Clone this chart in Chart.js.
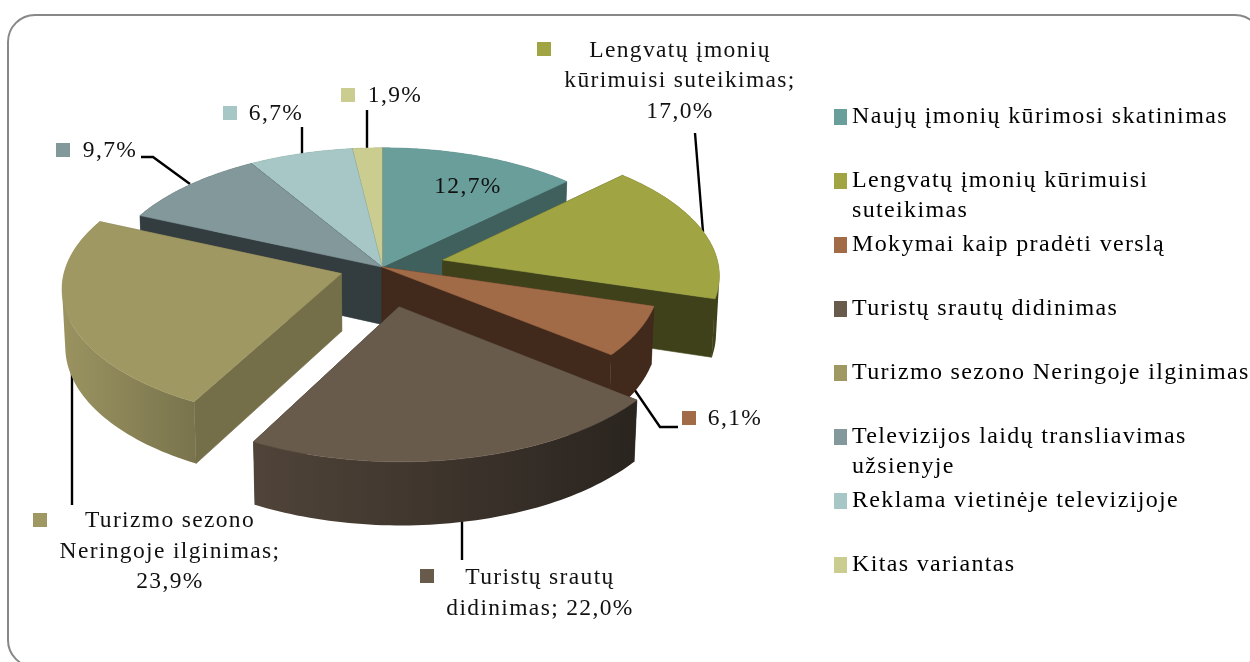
<!DOCTYPE html>
<html><head><meta charset="utf-8">
<style>
html,body{margin:0;padding:0;background:#fff;overflow:hidden;width:1250px;height:662px}
#frame{position:absolute;left:7px;top:14px;width:1256px;height:654px;border:2px solid #888;border-radius:28px;box-sizing:border-box}
#wrap{position:absolute;left:0;top:0;width:1250px;height:662px}
</style>
<script src="https://cdn.jsdelivr.net/npm/chart.js@4"></script>
</head><body>
<div id="frame"></div>
<div id="wrap"><canvas id="c" width="1250" height="662"></canvas></div>
<script>
const categories=["Naujų įmonių kūrimosi skatinimas","Lengvatų įmonių kūrimuisi suteikimas","Mokymai kaip pradėti verslą","Turistų srautų didinimas","Turizmo sezono Neringoje ilginimas","Televizijos laidų transliavimas užsienyje","Reklama vietinėje televizijoje","Kitas variantas"];
const legendLines=[["Naujų įmonių kūrimosi skatinimas",""],["Lengvatų įmonių kūrimuisi","suteikimas"],["Mokymai kaip pradėti verslą",""],["Turistų srautų didinimas",""],["Turizmo sezono Neringoje ilginimas",""],["Televizijos laidų transliavimas","užsienyje"],["Reklama vietinėje televizijoje",""],["Kitas variantas",""]];
const values=[12.7,17.0,6.1,22.0,23.9,9.7,6.7,1.9];
const topColors=["#699E9A","#A0A443","#A26B48","#695B4C","#A09863","#83989B","#A6C7C5","#CACC90"];
const cutColors=["#3F605D","#3F411A","#41291B","#2A241F","#746E49","#333D40","#5C7370","#7A7B50"];
const wallLeft=["#3F605D","#3F411A","#41291B","#504439","#9A9360","#333D40","#5C7370","#7A7B50"];
const wallRight=["#3F605D","#3F411A","#41291B","#2A241F","#7A744E","#333D40","#5C7370","#7A7B50"];
const explode=[0,0.228,0,0.3,0.155,0,0,0];
const drawOrder=[0,7,6,5,1,4,2,3];
const view={cx:382,cy:267,tilt:0.475,depth:0.21,persp:0.1,depthPersp:0.01};
const labelFont='23.5px "Liberation Serif"';
const spacing='1.35px';
const labelLayout=[
 {text:[""],tx:468,ty:187,leader:null},
 {text:["Lengvatų įmonių","kūrimuisi suteikimas;",""],tx:680,ty:50.5,mx:544,my:49,leader:[[695,133],[703,232]]},
 {text:[""],tx:735,ty:419,mx:689,my:418,leader:[[632,386],[660,427],[678,427]]},
 {text:["Turistų srautų","didinimas; 22,0%"],tx:540,ty:578,mx:427,my:576,fixed:true,leader:[[462,520],[462,560]]},
 {text:["Turizmo sezono","Neringoje ilginimas;",""],tx:170,ty:521,mx:40,my:520,leader:[[72,365],[72,505]]},
 {text:[""],tx:110,ty:151,mx:63,my:150,leader:[[141,157],[153,157],[190,184]]},
 {text:[""],tx:276,ty:114,mx:230,my:113,leader:[[302,127],[302,156]]},
 {text:[""],tx:395,ty:96,mx:348,my:95,leader:[[367,110],[367,150]]}
];
function pct(v){return v.toFixed(1).replace('.',',')+'%';}
function swatch(c){const s=document.createElement('canvas');s.width=16;s.height=16;const x=s.getContext('2d');x.fillStyle=c;x.fillRect(0,0,16,16);return s;}

const pie3d={
 id:'pie3d',
 beforeLayout(chart){chart.ctx.letterSpacing=spacing;},
 beforeDraw(chart){chart.ctx.letterSpacing=spacing;},
 beforeDatasetDraw(chart,args){
  const ctx=chart.ctx, meta=chart.getDatasetMeta(args.index), ds=chart.data.datasets[args.index];
  const arcs=meta.data;
  ctx.save();
  ctx.strokeStyle='#000';ctx.lineWidth=2.4;
  labelLayout.forEach(l=>{if(!l.leader)return;ctx.beginPath();l.leader.forEach((p,i)=>i?ctx.lineTo(p[0],p[1]):ctx.moveTo(p[0],p[1]));ctx.stroke();});
  drawOrder.forEach(i=>{
   const arc=arcs[i], a=arc.outerRadius, sa=arc.startAngle, ea=arc.endAngle, mid=(sa+ea)/2, e=explode[i];
   const ox=e*Math.cos(mid), oy=e*Math.sin(mid);
   const proj=(u,v,z)=>{const s=1/(1-view.persp*v+view.depthPersp*z);
     return [view.cx+a*u*s, view.cy+a*(view.tilt*v+view.depth*z)*s];};
   const n=64, rim=[];
   for(let k=0;k<=n;k++){const t=sa+(ea-sa)*k/n;rim.push([ox+Math.cos(t),oy+Math.sin(t)]);}
   const poly=(pts,fill)=>{ctx.beginPath();pts.forEach((p,k)=>k?ctx.lineTo(p[0],p[1]):ctx.moveTo(p[0],p[1]));ctx.closePath();ctx.fillStyle=fill;ctx.fill();ctx.strokeStyle=fill;ctx.lineWidth=0.6;ctx.stroke();};
   const T0=proj(ox,oy,0),T1=proj(ox,oy,1);
   const A=rim[0],B=rim[n];
   poly([T0,proj(A[0],A[1],0),proj(A[0],A[1],1),T1],cutColors[i]);
   poly([T0,proj(B[0],B[1],0),proj(B[0],B[1],1),T1],cutColors[i]);
   const topRim=rim.map(p=>proj(p[0],p[1],0)), botRim=rim.map(p=>proj(p[0],p[1],1));
   const xs=topRim.map(p=>p[0]);const g=ctx.createLinearGradient(Math.min(...xs),0,Math.max(...xs),0);
   g.addColorStop(0,wallLeft[i]);g.addColorStop(1,wallRight[i]);
   // outer wall: one path of consistently wound quads, filled once so no seams show
   ctx.beginPath();
   for(let k=0;k<n;k++){
    let q=[topRim[k],topRim[k+1],botRim[k+1],botRim[k]];
    let area=0;q.forEach((p,m)=>{const r=q[(m+1)%4];area+=p[0]*r[1]-r[0]*p[1];});
    if(area<0)q=q.reverse();
    q.forEach((p,m)=>m?ctx.lineTo(p[0],p[1]):ctx.moveTo(p[0],p[1]));ctx.closePath();
   }
   ctx.fillStyle=g;ctx.fill('nonzero');
   poly([T0].concat(topRim),ds.backgroundColor[i]);
  });
  ctx.font=labelFont;ctx.textBaseline='middle';ctx.textAlign='center';
  labelLayout.forEach((l,i)=>{
   if(l.mx!==undefined){ctx.fillStyle=topColors[i];ctx.fillRect(l.mx-7,l.my-7,14,14);}
   ctx.fillStyle='#111';
   const lines=l.fixed?l.text:l.text.map(t=>t===""?pct(values[i]):t);
   lines.forEach((t,k)=>ctx.fillText(t,l.tx,l.ty+k*30.5));
  });
  ctx.restore();
  return false;
 }
};
new Chart(document.getElementById('c'),{
 type:'pie',
 data:{labels:categories,datasets:[{data:values,backgroundColor:topColors,borderWidth:0}]},
 plugins:[pie3d],
 options:{
  responsive:false,animation:false,radius:276,
  layout:{padding:{top:101,right:0,bottom:0,left:0}},
  plugins:{
   tooltip:{enabled:false},
   legend:{position:'right',align:'start',maxWidth:416,
    labels:{usePointStyle:true,pointStyleWidth:2,boxHeight:14,padding:4,color:'#111',
     font:{family:'"Liberation Serif"',size:24,lineHeight:30/24},
     generateLabels(chart){return legendLines.map((t,i)=>({text:t,pointStyle:swatch(topColors[i]),fillStyle:topColors[i],strokeStyle:topColors[i],lineWidth:0,hidden:false,index:i}));}
    }}
  }
 }
});
</script>
</body></html>
